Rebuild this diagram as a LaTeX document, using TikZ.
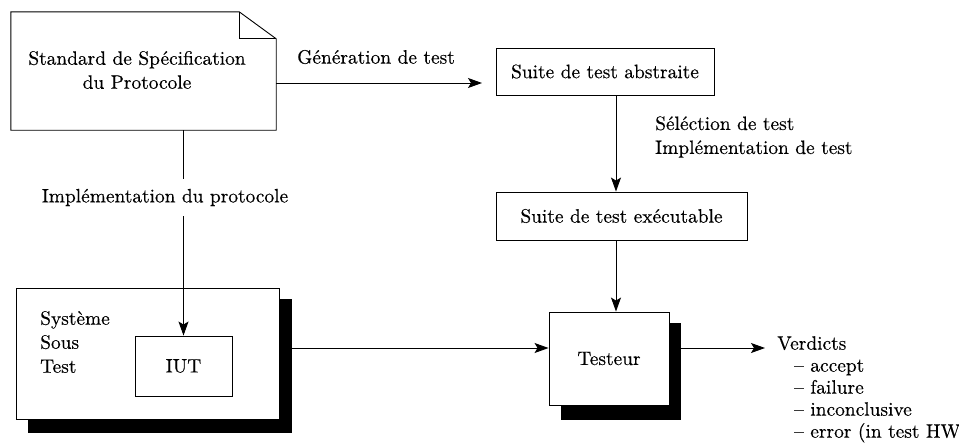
\documentclass[tikz,border=0pt]{standalone}
\usepackage{fontspec}
\setmainfont{lmroman10-regular}[Extension=.otf, FakeBold=0.3]
\usetikzlibrary{arrows.meta,calc}

\begin{document}
\begin{tikzpicture}[x=1pt,y=-1pt,
  every node/.style={font=\fontsize{19.4}{24}\selectfont, inner sep=0pt},
  box/.style={draw, line width=0.9pt, fill=white},
  shadowbox/.style={fill=black, draw=none},
  link/.style={line width=0.9pt, -{Stealth[length=14pt,width=10pt,inset=3pt]}},
  plain/.style={line width=0.9pt}
]
\useasboundingbox (0,0) rectangle (959,445);

% specification document with folded corner
\node (spec) [minimum width=265pt, minimum height=118pt] at (143.5,71) {};
\draw[plain, line join=miter] (spec.north west) -- ($(spec.north east)+(-37,0)$)
  -- ($(spec.north east)+(0,27)$) -- (spec.south east) -- (spec.south west) -- cycle;
\draw[plain] ($(spec.north east)+(-37,0)$) -- ++(0,27) -- ($(spec.north east)+(0,27)$);
\node (spectext) [align=center] at (137,70) {Standard de Spécification\\du Protocole};

% test suites
\node (abs) [box, minimum width=218pt, minimum height=47pt] at (605,71.5) {Suite de test abstraite};
\node (exec) [box, minimum width=251pt, minimum height=48pt] at (621.5,216) {Suite de test exécutable};

% tester with its shadow
\node (tstsh) [shadowbox, minimum width=120pt, minimum height=97pt] at (621,371.5) {};
\node (tst) [box, minimum width=120pt, minimum height=93pt] at (609,358.5) {Testeur};

% system under test with its shadow
\node (sutsh) [shadowbox, minimum width=264pt, minimum height=134pt] at (160,366) {};
\node (sut) [box, minimum width=263pt, minimum height=131pt] at (147.5,353.5) {};
\node (sutlabel) [align=left, anchor=west] at (40,342) {Système\\Sous\\Test};
\node (iut) [box, minimum width=97pt, minimum height=60pt] at (183.5,366) {IUT};

% connectors
\coordinate (genend) at (482,83);
\coordinate (colx) at (616,0);
\coordinate (rowy) at (0,348);
\coordinate (vend) at (765,348);

\draw[link] (spec.east |- genend) -- (genend);
\node (genlabel) at (376,57) {Génération de test};

\draw[link] (abs.south -| colx) -- (exec.north -| colx);
\node (sellabel) [align=left, anchor=west] at (655,137) {Séléction de test\\Implémentation de test};

\draw[link] (exec.south -| colx) -- (tst.north -| colx);

\draw[link] (spec.south -| iut.north) -- (iut.north);
\node (implabel) [fill=white, minimum height=37pt] at (165,197.5) {Implémentation du protocole};

\draw[link] (sutsh.east |- rowy) -- (tst.west |- rowy);
\draw[link] (tstsh.east |- rowy) -- (vend);

\node (verdicts) [align=left, anchor=north west, font=\fontsize{19.4}{22}\selectfont] at (777,336)
  {Verdicts\\
   \hspace*{17pt}– accept\\
   \hspace*{17pt}– failure\\
   \hspace*{17pt}– inconclusive\\
   \hspace*{17pt}– error (in test HW};
\end{tikzpicture}
\end{document}
